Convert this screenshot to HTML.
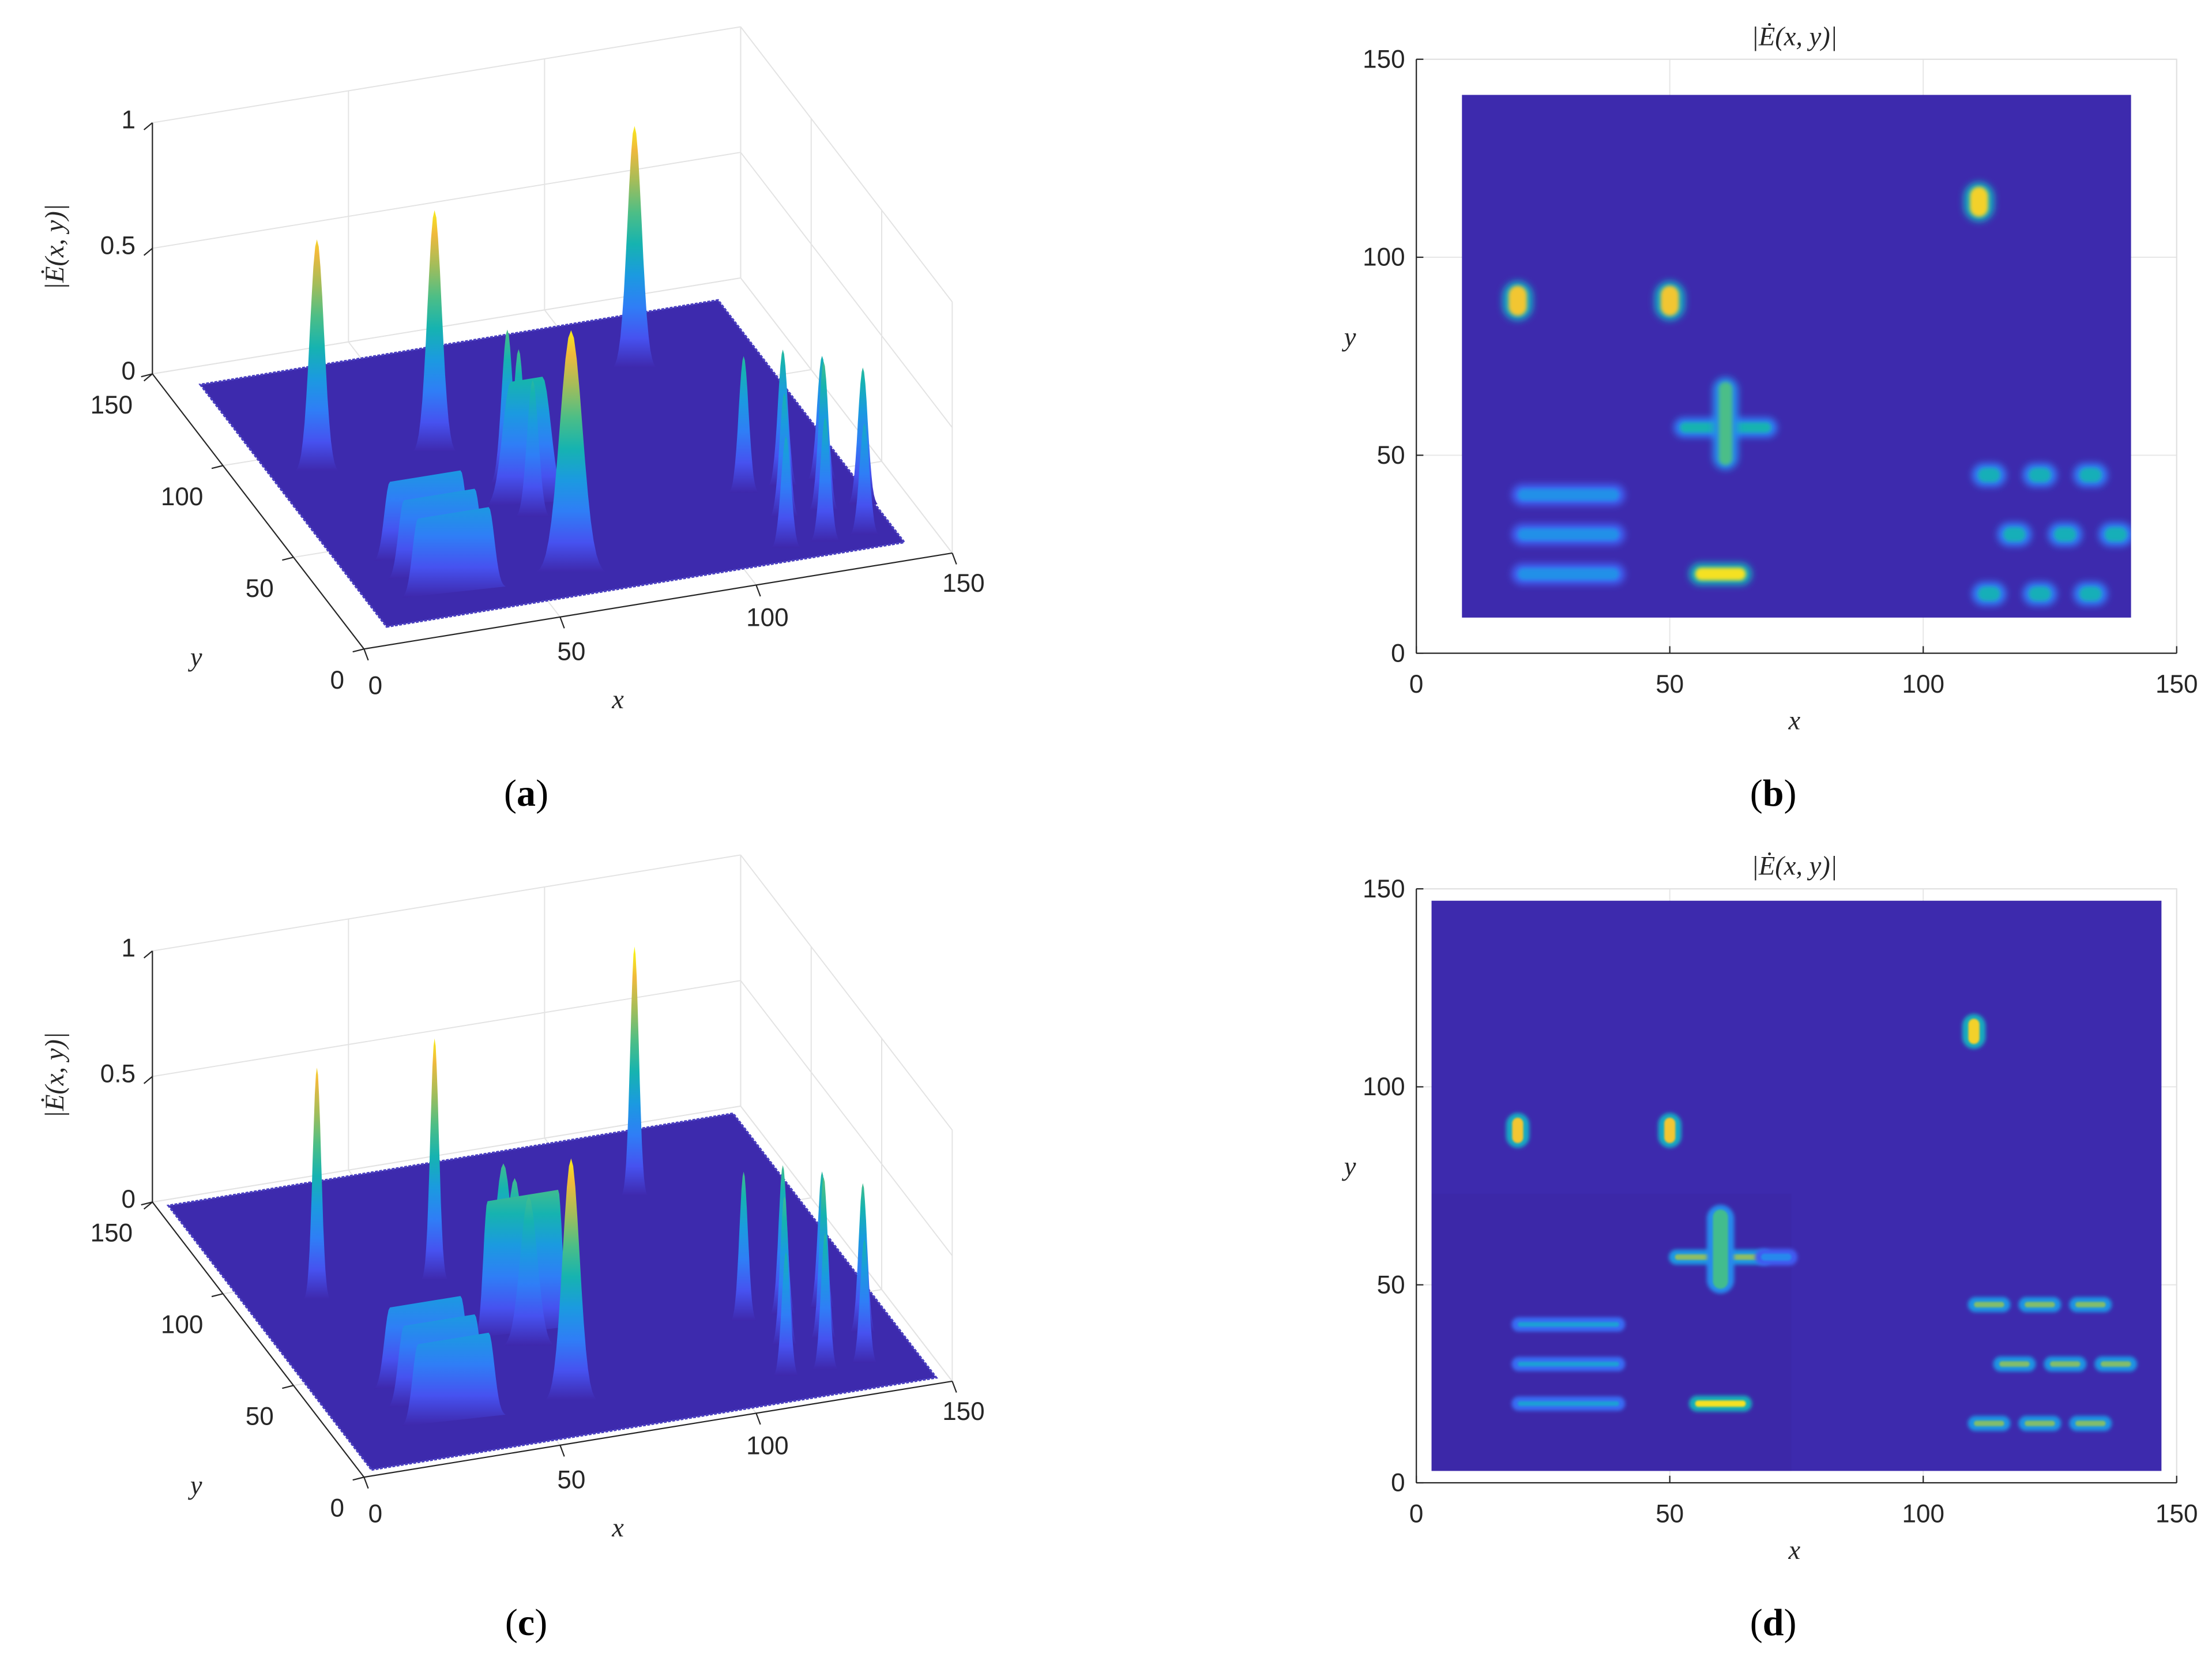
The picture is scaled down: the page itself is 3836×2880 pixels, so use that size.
<!DOCTYPE html>
<html><head><meta charset="utf-8"><style>
html,body{margin:0;padding:0;background:#fff;}
svg{display:block;}
text{font-family:"Liberation Sans",sans-serif;fill:#262626;}
.it{font-family:"Liberation Serif",serif;font-style:italic;}
.cap{font-family:"Liberation Serif",serif;font-size:27px;fill:#000;}
</style></head><body>
<svg id="fig" xmlns="http://www.w3.org/2000/svg" width="3836" height="2880" viewBox="0 0 1568 1177.3">
<defs>
<filter id="blurB" x="-50%" y="-50%" width="200%" height="200%"><feGaussianBlur stdDeviation="2.4"/></filter>
<filter id="blurB2" x="-50%" y="-50%" width="200%" height="200%"><feGaussianBlur stdDeviation="1.3"/></filter>
<filter id="blurD" x="-50%" y="-50%" width="200%" height="200%"><feGaussianBlur stdDeviation="1.3"/></filter>
<filter id="blurD2" x="-50%" y="-50%" width="200%" height="200%"><feGaussianBlur stdDeviation="0.7"/></filter>
</defs>
<g id="layer"></g>
<text class="cap" x="373" y="571" text-anchor="middle">(<tspan font-weight="bold">a</tspan>)</text>
<text class="cap" x="1257" y="571" text-anchor="middle">(<tspan font-weight="bold">b</tspan>)</text>
<text class="cap" x="373" y="1159" text-anchor="middle">(<tspan font-weight="bold">c</tspan>)</text>
<text class="cap" x="1257" y="1159" text-anchor="middle">(<tspan font-weight="bold">d</tspan>)</text>
</svg>
<script>
// ---------- data ----------
const ticks = [0, 50, 100, 150];
const zTicks = [0, 0.5, 1];
const zTickLabels = ['0', '0.5', '1'];
// heatmap (b): [cx, cy, halfX, halfY, value]
const spotsB = [
  [20,89,1.8,3.8,0.9],[50,89,1.8,3.8,0.9],[111,114,1.8,3.8,0.92],
  [61,57,9,1.3,0.5],[61,58,1.3,10.5,0.62],
  [30,40,10,1.5,0.33],[30,30,10,1.5,0.33],[30,20,10,1.5,0.33],
  [60,20,5,1.6,0.95],
  [113,45,2.2,1.8,0.48],[123,45,2.2,1.8,0.48],[133,45,2.2,1.8,0.48],
  [118,30,2.2,1.8,0.48],[128,30,2.2,1.8,0.48],[138,30,2.2,1.8,0.48],
  [113,15,2.2,1.8,0.48],[123,15,2.2,1.8,0.48],[133,15,2.2,1.8,0.48]
];
const spotsD = [
  [20,89,1.1,3.2,0.9],[50,89,1.1,3.2,0.9],[110,114,1.1,3.2,0.92],
  [60,57,9,0.7,0.72],[60,59,1.5,10,0.6],[71,57,3,0.9,0.3],
  [30,40,10,0.6,0.4],[30,30,10,0.6,0.4],[30,20,10,0.6,0.4],
  [60,20,5,0.8,0.95],
  [113,45,3,0.7,0.7],[123,45,3,0.7,0.7],[133,45,3,0.7,0.7],
  [118,30,3,0.7,0.7],[128,30,3,0.7,0.7],[138,30,3,0.7,0.7],
  [113,15,3,0.7,0.7],[123,15,3,0.7,0.7],[133,15,3,0.7,0.7]
];
// 3D marks: [x1, y1, x2, y2, height, sigmaPx]
const marksA = [
  [110,114,110,114,0.97,5],
  [20,89,20,89,0.93,5],[50,89,50,89,0.97,5],
  [61,68,61,68,0.62,4],[61,60,61,60,0.6,4],[58,57,66,57,0.5,6],[61,50,61,50,0.55,4],
  [113,45,113,45,0.55,3.5],[123,45,123,45,0.55,3.5],[133,45,133,45,0.5,3.5],
  [21,40,39,40,0.32,4],[118,30,118,30,0.5,3.5],[128,30,128,30,0.6,3.5],[138,30,138,30,0.55,3.5],
  [21,30,39,30,0.32,4],[21,20,39,20,0.32,4],
  [113,15,113,15,0.45,3.5],[123,15,123,15,0.5,3.5],[133,15,133,15,0.45,3.5],
  [60,20,60,20,0.97,8]
];
const marksC = [
  [110,114,110,114,1.0,3],
  [20,89,20,89,0.93,3],[50,89,50,89,0.97,3],
  [60,68,60,68,0.6,6],[60,60,60,60,0.6,6],[52,57,70,57,0.55,3],[60,50,60,50,0.6,6],
  [113,45,113,45,0.6,3],[123,45,123,45,0.6,3],[133,45,133,45,0.55,3],
  [21,40,39,40,0.33,4],[118,30,118,30,0.6,3],[128,30,128,30,0.65,3],[138,30,138,30,0.6,3],
  [21,30,39,30,0.33,4],[21,20,39,20,0.33,4],
  [113,15,113,15,0.5,3],[123,15,123,15,0.55,3],[133,15,133,15,0.5,3],
  [60,20,60,20,0.97,6]
];
// ---------- helpers ----------
const NS = 'http://www.w3.org/2000/svg';
const layer = document.getElementById('layer');
function mk(tag, attrs, parent) {
  const e = document.createElementNS(NS, tag);
  for (const k in attrs) e.setAttribute(k, attrs[k]);
  (parent || layer).appendChild(e);
  return e;
}
const PAR = [[0,[62,38,168]],[0.125,[70,82,240]],[0.25,[47,126,246]],[0.375,[27,154,224]],[0.5,[22,179,176]],[0.625,[77,190,134]],[0.75,[163,189,90]],[0.875,[240,185,60]],[1,[249,251,14]]];
function parula(t) {
  t = Math.max(0, Math.min(1, t));
  for (let i = 1; i < PAR.length; i++) {
    if (t <= PAR[i][0]) {
      const a = PAR[i-1], b = PAR[i], f = (t - a[0]) / (b[0] - a[0]);
      const c = a[1].map((v, j) => Math.round(v + (b[1][j] - v) * f));
      return 'rgb(' + c.join(',') + ')';
    }
  }
  return 'rgb(249,251,14)';
}
const BG = '#3d2aad';

// ---------- heatmaps ----------
function heatmap(top, spots, dx0, dx1, blur1, blur2, nm) {
  const X0 = 1004, X1 = 1543, Y0 = top + 421, Y1 = top;
  const sx = v => X0 + v * (X1 - X0) / 150;
  const sy = v => Y0 - v * (Y0 - Y1) / 150;
  const g = mk('g', {});
  
  
  ticks.forEach(t => {
    const gx = mk('line', {x1: sx(t), y1: Y0, x2: sx(t), y2: Y1, stroke: '#e6e6e6', 'stroke-width': 0.8}, g);
    
    
    const gy = mk('line', {x1: X0, y1: sy(t), x2: X1, y2: sy(t), stroke: '#e6e6e6', 'stroke-width': 0.8}, g);
    
    
  });
  mk('rect', {x: X0, y: Y1, width: X1 - X0, height: Y0 - Y1, fill: 'none', stroke: '#e0e0e0', 'stroke-width': 0.8}, g);
  const bg = mk('rect', {x: sx(dx0), y: sy(dx1), width: sx(dx1) - sx(dx0), height: sy(dx0) - sy(dx1), fill: BG}, g);
  
  
  const clip = 'clip' + nm;
  const cp = mk('clipPath', {id: clip}, g);
  mk('rect', {x: sx(dx0), y: sy(dx1), width: sx(dx1) - sx(dx0), height: sy(dx0) - sy(dx1)}, cp);
  const sg = mk('g', {'clip-path': 'url(#' + clip + ')'}, g);
  if (nm === 'd') {
    mk('rect', {x: sx(dx0), y: sy(73), width: sx(74) - sx(dx0), height: sy(dx0) - sy(73), fill: '#3a24a0', opacity: 0.3}, sg);
  }
  spots.forEach(s => {
    const [cx, cy, hx, hy, v] = s;
    const ow = sx(2 * hx + 2.4) - sx(0), oh = sy(0) - sy(2 * hy + 2.4);
    const o = mk('rect', {x: sx(cx - hx - 1.2), y: sy(cy + hy + 1.2), width: ow, height: oh, rx: Math.min(ow, oh) / 2, fill: parula(v * 0.5), filter: 'url(#' + blur1 + ')'}, sg);
    
    
    const iw = sx(2 * hx) - sx(0), ih = sy(0) - sy(2 * hy);
    const r = mk('rect', {x: sx(cx - hx), y: sy(cy + hy), width: iw, height: ih, rx: Math.min(iw, ih) / 2, fill: parula(v), filter: 'url(#' + blur2 + ')'}, sg);
    
    
  });
  mk('line', {x1: X0, y1: Y0, x2: X1, y2: Y0, stroke: '#262626', 'stroke-width': 0.9}, g);
  mk('line', {x1: X0, y1: Y0, x2: X0, y2: Y1, stroke: '#262626', 'stroke-width': 0.9}, g);
  ticks.forEach(t => {
    mk('line', {x1: sx(t), y1: Y0, x2: sx(t), y2: Y0 - 5, stroke: '#262626', 'stroke-width': 0.9}, g);
    mk('line', {x1: X0, y1: sy(t), x2: X0 + 5, y2: sy(t), stroke: '#262626', 'stroke-width': 0.9}, g);
    const tx = mk('text', {x: sx(t), y: Y0 + 28, 'font-size': 18, 'text-anchor': 'middle'}, g);
    tx.textContent = t;
    
    
    const ty = mk('text', {x: X0 - 8, y: sy(t) + 6, 'font-size': 18, 'text-anchor': 'end'}, g);
    ty.textContent = t;
    
    
  });
  const xl = mk('text', {x: 1272, y: Y0 + 54, 'font-size': 19, 'text-anchor': 'middle', class: 'it'}, g);
  xl.textContent = 'x';
  
  
  const yl = mk('text', {x: 957, y: top + 203, 'font-size': 19, 'text-anchor': 'middle', class: 'it'}, g);
  yl.textContent = 'y';
  
  
  const tl = mk('text', {x: 1272, y: top - 10, 'font-size': 19, 'text-anchor': 'middle', class: 'it'}, g);
  tl.textContent = '|Ė(x, y)|';
  
  
}
heatmap(42, spotsB, 9, 141, 'blurB', 'blurB2', 'b');
heatmap(630, spotsD, 3, 147, 'blurD', 'blurD2', 'd');

// ---------- 3D surfaces ----------
function surface3d(dy, marks, d0, d1, nm) {
  const O = [258, 460 + dy], ex = [417/150, -68/150], ey = [-1, -195/150], ez = 178;
  const P = (x, y, z) => [O[0] + x*ex[0] + y*ey[0], O[1] + x*ex[1] + y*ey[1] - z*ez];
  const g = mk('g', {});
  
  
  const L = (a, b, c, w) => mk('line', {x1: a[0], y1: a[1], x2: b[0], y2: b[1], stroke: c || '#e3e3e3', 'stroke-width': w || 0.8}, g);
  zTicks.forEach(z => { L(P(0,150,z), P(150,150,z)); L(P(150,150,z), P(150,0,z)); });
  ticks.forEach(t => { L(P(t,150,0), P(t,150,1)); L(P(150,t,0), P(150,t,1)); L(P(t,0,0), P(t,150,0)); L(P(0,t,0), P(150,t,0)); });
  L(P(0,150,0), P(0,150,1), '#262626', 0.9);
  L(P(0,0,0), P(150,0,0), '#262626', 0.9);
  L(P(0,0,0), P(0,150,0), '#262626', 0.9);
  zTicks.forEach((z, i) => {
    const p = P(0,150,z);
    L(p, [p[0]-6, p[1]+5], '#262626', 0.9);
    const t = mk('text', {x: p[0] - 12, y: p[1] + 4, 'font-size': 18, 'text-anchor': 'end'}, g);
    t.textContent = zTickLabels[i];
    
    
  });
  ticks.forEach(v => {
    const p = P(v,0,0);
    L(p, [p[0]+3, p[1]+8], '#262626', 0.9);
    const t = mk('text', {x: p[0] + 8, y: p[1] + 32 - v*0.03, 'font-size': 18, 'text-anchor': 'middle'}, g);
    t.textContent = v;
    
    
    const q = P(0,v,0);
    L(q, [q[0]-8, q[1]+2], '#262626', 0.9);
    const u = mk('text', {x: q[0] - 14, y: q[1] + 28, 'font-size': 18, 'text-anchor': 'end'}, g);
    u.textContent = v;
    
    
  });
  const xl = mk('text', {x: 438, y: 502 + dy, 'font-size': 19, 'text-anchor': 'middle', class: 'it'}, g);
  xl.textContent = 'x';
  
  
  const yl = mk('text', {x: 139, y: 472 + dy, 'font-size': 19, 'text-anchor': 'middle', class: 'it'}, g);
  yl.textContent = 'y';
  
  
  const zl = mk('text', {x: 0, y: 0, 'font-size': 19, 'text-anchor': 'middle', class: 'it', transform: 'translate(45,' + (175 + dy) + ') rotate(-90)'}, g);
  zl.textContent = '|Ė(x, y)|';
  
  
  const c = [P(d0,d0,0), P(d1,d0,0), P(d1,d1,0), P(d0,d1,0)];
  const fl = mk('polygon', {points: c.map(p => p.join(',')).join(' '), fill: BG, stroke: '#4a3fc0', 'stroke-width': 1.5, 'stroke-dasharray': '2 1'}, g);
  
  
  marks.forEach((m, i) => {
    const [x1, y1, x2, y2, h, sg] = m;
    let a = P(x1, y1, 0), b = P(x2, y2, 0);
    if (a[0] > b[0]) { const t = a; a = b; b = t; }
    const H = h * ez, pts = [];
    for (let s = -3; s <= 0; s += 0.25) pts.push([a[0] + s*sg, a[1] - H*Math.exp(-s*s/2)]);
    for (let s = 0; s <= 3; s += 0.25) pts.push([b[0] + s*sg, b[1] - H*Math.exp(-s*s/2)]);
    const id = 'g' + nm + i, base = Math.max(a[1], b[1]);
    const lg = mk('linearGradient', {id: id, gradientUnits: 'userSpaceOnUse', x1: 0, y1: base, x2: 0, y2: base - ez}, g);
    PAR.forEach(st => mk('stop', {offset: st[0], 'stop-color': parula(st[0])}, lg));
    const pk = mk('path', {d: 'M' + pts.map(p => p[0].toFixed(1) + ',' + p[1].toFixed(1)).join('L') + 'Z', fill: 'url(#' + id + ')'}, g);
    
    
  });
}
surface3d(0, marksA, 9, 141, 'a');
surface3d(587, marksC, 3, 147, 'c');
</script>
</body></html>
